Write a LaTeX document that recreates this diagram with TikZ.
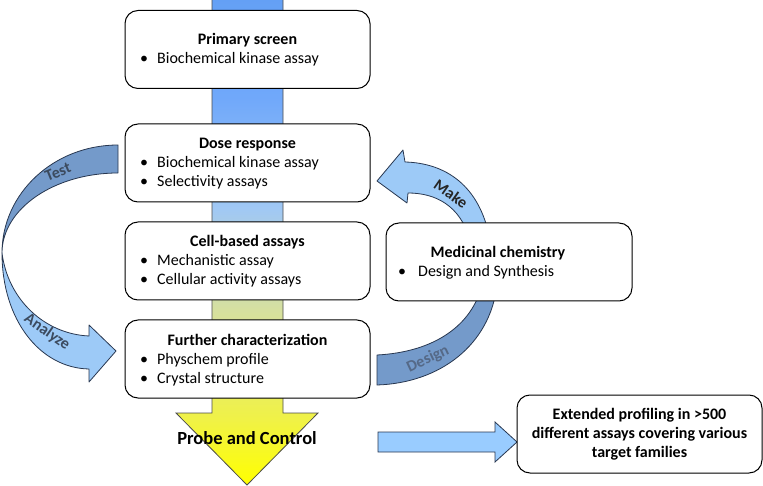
\documentclass[tikz,border=0pt]{standalone}
\usepackage{fontspec}
\setmainfont{Carlito}
\definecolor{barY}{RGB}{255,255,0}
\definecolor{barA}{RGB}{240,242,70}
\definecolor{barB}{RGB}{214,224,160}
\definecolor{barC}{RGB}{160,200,245}
\definecolor{barD}{RGB}{112,168,250}
\definecolor{barE}{RGB}{100,160,245}
\definecolor{darkband}{RGB}{116,154,202}
\definecolor{lightband}{RGB}{157,202,247}
\definecolor{blockblue}{RGB}{153,204,255}
\definecolor{arrowdark}{RGB}{40,55,80}
\definecolor{lblgray}{RGB}{60,75,95}
\definecolor{lblsoft}{RGB}{85,105,135}
\pgfdeclareverticalshading{mainbar}{100bp}{color(0bp)=(barY); color(25bp)=(barY); color(31.7bp)=(barA); color(43bp)=(barB); color(53.4bp)=(barC); color(64.7bp)=(barD); color(75bp)=(barE); color(100bp)=(barE)}
\begin{document}
\begin{tikzpicture}[x=1pt,y=-1pt,
  box/.style={draw=black, line width=1pt, fill=white, rounded corners=13pt, minimum width=245pt, minimum height=78pt, inner sep=0pt},
  ttl/.style={font=\bfseries\fontsize{16}{19}\selectfont, anchor=base, inner sep=0pt},
  itm/.style={font=\fontsize{16}{19}\selectfont, anchor=base west, inner sep=0pt},
  albl/.style={font=\bfseries\fontsize{16}{19}\selectfont, inner sep=0pt},
  bandline/.style={draw=arrowdark, line width=0.8pt, line join=round}]
\useasboundingbox (0,0) rectangle (763,486);

% main vertical arrow
\path[draw=black!70, line width=0.8pt, line join=miter, shade, shading=mainbar]
  (212,-3) -- (283,-3) -- (283,413) -- (318,413) -- (247,485) -- (176,413) -- (212,413) -- cycle;

% left curved arrow (Test / Analyze)
\path[bandline, fill=darkband]
  (118,145) .. controls (54,145) and (2,193) .. (2,253)
  .. controls (2,209) and (54,173) .. (118,173) -- cycle;
\path[bandline, fill=lightband]
  (2,253) .. controls (8,300) and (45,334) .. (89,336)
  -- (89,325) -- (116,351) -- (89,382) -- (89,369)
  .. controls (40,368) and (2,320) .. (2,253) -- cycle;
\node[albl, text=lblgray, rotate=22] (ltest) at (58,172) {Test};
\node[albl, text=lblgray, rotate=-35] (lanalyze) at (47,332) {Analyze};

% right curved arrow (Make / Design)
\path[bandline, fill=darkband]
  (377,385) -- (377,355) .. controls (435,352) and (472,325) .. (482,285)
  -- (497,285) .. controls (490,345) and (440,383) .. (377,385) -- cycle;
\path[bandline, fill=lightband]
  (490,240) .. controls (480,185) and (445,163) .. (405,162)
  -- (403,150) -- (377,181) -- (407,203) -- (408,193)
  .. controls (435,193) and (460,205) .. (470,240) -- cycle;
\node[albl, text=black!85, rotate=-35] (lmake) at (451,194) {Make};
\node[albl, text=lblsoft, rotate=25] (ldesign) at (428,359) {Design};

% right block arrow
\path[draw=arrowdark, line width=0.8pt, fill=blockblue]
  (378,432) -- (495,432) -- (495,422) -- (517,442) -- (495,462) -- (495,452) -- (378,452) -- cycle;

% boxes
\node[box] (b1) at (247.5,49.5) {};
\node[box] (b2) at (247.5,163) {};
\node[box] (b3) at (247.5,261) {};
\node[box] (b4) at (247.5,359) {};
\node[box, minimum width=246pt] (bm) at (509,262) {};
\node[box] (be) at (639.5,434) {};

\node[ttl] (t1) at (247.5,45) {Primary screen};
\node[itm] (i1a) at (140,64) {\makebox[17pt][l]{\textbullet}Biochemical kinase assay};

\node[ttl] (t2) at (247.5,149) {Dose response};
\node[itm] (i2a) at (140,168) {\makebox[17pt][l]{\textbullet}Biochemical kinase assay};
\node[itm] (i2b) at (140,187) {\makebox[17pt][l]{\textbullet}Selectivity assays};

\node[ttl] (t3) at (247.5,247) {Cell-based assays};
\node[itm] (i3a) at (140,266) {\makebox[17pt][l]{\textbullet}Mechanistic assay};
\node[itm] (i3b) at (140,285) {\makebox[17pt][l]{\textbullet}Cellular activity assays};

\node[ttl] (t4) at (247.5,345) {Further characterization};
\node[itm] (i4a) at (140,364) {\makebox[17pt][l]{\textbullet}Physchem profile};
\node[itm] (i4b) at (140,383) {\makebox[17pt][l]{\textbullet}Crystal structure};

\node[ttl] (tm) at (498,258) {Medicinal chemistry};
\node[itm] (ima) at (398,277) {\makebox[20pt][l]{\textbullet}Design and Synthesis};

\node[ttl, font=\bfseries\fontsize{16}{19}\selectfont, align=center, anchor=center] (te) at (639.5,434)
  {Extended profiling in >500\\different assays covering various\\target families};

\node[ttl, font=\bfseries\fontsize{18.5}{22}\selectfont] (tp) at (247,444) {Probe and Control};
\end{tikzpicture}
\end{document}
